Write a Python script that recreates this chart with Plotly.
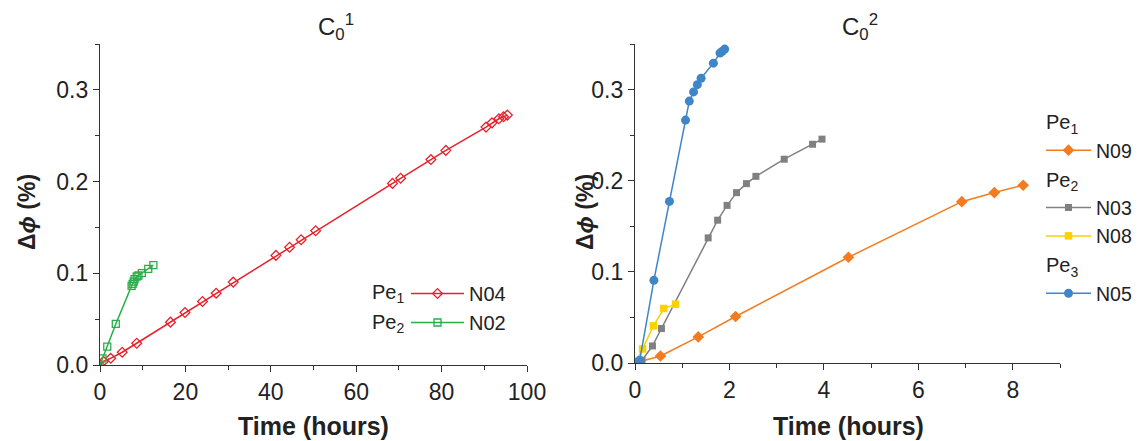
import plotly.graph_objects as go

# ---------------- data ----------------
# Left panel (C0^1), time in hours, delta phi in %
n04_t = [0, 0.8, 2.5, 5.2, 8.6, 16.5, 19.9, 24.0, 27.2, 31.2, 41.2, 44.4, 47.1, 50.5,
         68.5, 70.4, 77.5, 81.0, 90.4, 91.8, 93.4, 94.5, 95.4]
n04_v = [0, 0.004, 0.0073, 0.0139, 0.0237, 0.0467, 0.0572, 0.0692, 0.0783, 0.0904, 0.1195,
         0.1284, 0.1366, 0.1464, 0.198, 0.2036, 0.224, 0.234, 0.2594, 0.264, 0.2685, 0.2707, 0.2725]
n02_t = [0, 0.6, 1.7, 3.7, 7.4, 7.65, 7.9, 8.1, 8.6, 9.0, 9.8, 11.3, 12.5]
n02_v = [0, 0.0073, 0.020, 0.0448, 0.0863, 0.0885, 0.091, 0.0937, 0.0965, 0.0976, 0.1002, 0.1049, 0.109]

# Right panel (C0^2)
n09_t = [0, 0.54, 1.34, 2.13, 4.52, 6.92, 7.61, 8.22]
n09_v = [0, 0.0077, 0.0286, 0.051, 0.116, 0.177, 0.187, 0.195]
n03_t = [0, 0.15, 0.37, 0.56, 1.55, 1.75, 1.95, 2.15, 2.36, 2.56, 3.16, 3.76, 3.96]
n03_v = [0, 0.003, 0.0187, 0.0378, 0.1373, 0.1567, 0.1729, 0.1869, 0.1968, 0.2048, 0.2236, 0.240, 0.2456]
n08_t = [0, 0.16, 0.39, 0.61, 0.86]
n08_v = [0, 0.0154, 0.0407, 0.0598, 0.0646]
n05_t = [0, 0.1, 0.40, 0.73, 1.07, 1.15, 1.24, 1.32, 1.40, 1.66, 1.80, 1.85, 1.90]
n05_v = [0, 0.003, 0.0907, 0.1773, 0.2665, 0.2874, 0.2974, 0.3054, 0.3124, 0.329, 0.340, 0.342, 0.3444]

# ---------------- layout helpers ----------------
W, H = 1142, 441
OFF = 8  # page body margin offset
FONT = "Liberation Sans, Arial, sans-serif"
TXT = "#222222"

def px_x(p):
    return (p - OFF) / W

def px_y(p):
    return 1 - (p - OFF) / H

RED = "#E8212B"
GREEN = "#2AAE4A"
ORANGE = "#F47C20"
GRAY = "#808080"
YELLOW = "#F9D200"
BLUE = "#3F86C8"

fig = go.Figure()

# Left panel traces
fig.add_trace(go.Scatter(x=n04_t, y=n04_v, mode="lines+markers", name="N04",
                         line=dict(color=RED, width=1.5),
                         marker=dict(symbol="diamond-open", size=7.5, color=RED, line=dict(width=1.3)),
                         xaxis="x", yaxis="y", legend="legend"))
fig.add_trace(go.Scatter(x=n02_t, y=n02_v, mode="lines+markers", name="N02",
                         line=dict(color=GREEN, width=1.5),
                         marker=dict(symbol="square-open", size=7, color=GREEN, line=dict(width=1.3)),
                         xaxis="x", yaxis="y", legend="legend"))

# Right panel traces
fig.add_trace(go.Scatter(x=n09_t, y=n09_v, mode="lines+markers", name="N09",
                         line=dict(color=ORANGE, width=1.5),
                         marker=dict(symbol="diamond", size=9, color=ORANGE),
                         legendgroup="pe1", legendgrouptitle=dict(text="Pe<sub>1</sub>"),
                         xaxis="x2", yaxis="y2", legend="legend2"))
fig.add_trace(go.Scatter(x=n03_t, y=n03_v, mode="lines+markers", name="N03",
                         line=dict(color=GRAY, width=1.5),
                         marker=dict(symbol="square", size=7, color=GRAY),
                         legendgroup="pe2", legendgrouptitle=dict(text="Pe<sub>2</sub>"),
                         xaxis="x2", yaxis="y2", legend="legend2"))
fig.add_trace(go.Scatter(x=n08_t, y=n08_v, mode="lines+markers", name="N08",
                         line=dict(color=YELLOW, width=1.5),
                         marker=dict(symbol="square", size=7.5, color=YELLOW),
                         legendgroup="pe2",
                         xaxis="x2", yaxis="y2", legend="legend2"))
fig.add_trace(go.Scatter(x=n05_t, y=n05_v, mode="lines+markers", name="N05",
                         line=dict(color=BLUE, width=1.5),
                         marker=dict(symbol="circle", size=9, color=BLUE),
                         legendgroup="pe3", legendgrouptitle=dict(text="Pe<sub>3</sub>"),
                         xaxis="x2", yaxis="y2", legend="legend2"))

axis_common = dict(
    showline=True, linecolor="#333333", linewidth=1.3,
    ticks="outside", ticklen=6, tickwidth=1.3, tickcolor="#333333",
    showgrid=False, zeroline=False, mirror=False,
    tickfont=dict(family=FONT, size=23, color=TXT),
)
minor_common = dict(ticks="outside", ticklen=4, tickwidth=1.3, tickcolor="#333333", showgrid=False)

fig.update_layout(
    width=W, height=H,
    paper_bgcolor="white", plot_bgcolor="white",
    margin=dict(l=0, r=0, t=0, b=0, autoexpand=False),
    font=dict(family=FONT, color=TXT),
    xaxis=dict(domain=[px_x(100), px_x(527)], range=[0, 100], dtick=20, tick0=0,
               minor=dict(dtick=10, **minor_common), anchor="y", **axis_common),
    yaxis=dict(domain=[px_y(365), px_y(44)], range=[0, 0.35], dtick=0.1, tick0=0, tickformat=".1f",
               minor=dict(dtick=0.05, **minor_common), anchor="x", **axis_common),
    xaxis2=dict(domain=[px_x(635), px_x(1060)], range=[0, 9], dtick=2, tick0=0,
                minor=dict(dtick=1, **minor_common), anchor="y2", **axis_common),
    yaxis2=dict(domain=[px_y(363), px_y(44)], range=[0, 0.35], dtick=0.1, tick0=0, tickformat=".1f",
                minor=dict(dtick=0.05, **minor_common), anchor="x2", **axis_common),
    legend=dict(x=px_x(406), y=px_y(274), xanchor="left", yanchor="top",
                bgcolor="rgba(0,0,0,0)", itemwidth=53, tracegroupgap=0,
                font=dict(family=FONT, size=20, color=TXT), traceorder="normal"),
    legend2=dict(x=px_x(1041), y=px_y(102), xanchor="left", yanchor="top",
                 bgcolor="rgba(0,0,0,0)", itemwidth=45, tracegroupgap=0,
                 font=dict(family=FONT, size=19.5, color=TXT),
                 grouptitlefont=dict(family=FONT, size=20, color=TXT)),
    showlegend=True,
)

annotations = [
    # panel titles
    dict(text="C<sub>0</sub><sup>1</sup>", x=px_x(336), y=px_y(27), xref="paper", yref="paper",
         showarrow=False, font=dict(family=FONT, size=24, color=TXT), xanchor="center", yanchor="middle"),
    dict(text="C<sub>0</sub><sup>2</sup>", x=px_x(860), y=px_y(27), xref="paper", yref="paper",
         showarrow=False, font=dict(family=FONT, size=24, color=TXT), xanchor="center", yanchor="middle"),
    # x titles
    dict(text="<b>Time (hours)</b>", x=px_x(313), y=px_y(426), xref="paper", yref="paper",
         showarrow=False, font=dict(family=FONT, size=25, color=TXT), xanchor="center", yanchor="middle"),
    dict(text="<b>Time (hours)</b>", x=px_x(848), y=px_y(426), xref="paper", yref="paper",
         showarrow=False, font=dict(family=FONT, size=25, color=TXT), xanchor="center", yanchor="middle"),
    # y titles
    dict(text="<b>Δ<i>ϕ</i> (%)</b>", x=px_x(27), y=px_y(212), xref="paper", yref="paper", textangle=-90,
         showarrow=False, font=dict(family=FONT, size=23, color=TXT), xanchor="center", yanchor="middle"),
    dict(text="<b>Δ<i>ϕ</i> (%)</b>", x=px_x(585), y=px_y(212), xref="paper", yref="paper", textangle=-90,
         showarrow=False, font=dict(family=FONT, size=23, color=TXT), xanchor="center", yanchor="middle"),
    # left legend group labels
    dict(text="Pe<sub>1</sub>", x=px_x(406), y=px_y(293), xref="paper", yref="paper",
         showarrow=False, font=dict(family=FONT, size=20, color=TXT), xanchor="right", yanchor="middle"),
    dict(text="Pe<sub>2</sub>", x=px_x(406), y=px_y(323), xref="paper", yref="paper",
         showarrow=False, font=dict(family=FONT, size=20, color=TXT), xanchor="right", yanchor="middle"),
]
fig.update_layout(annotations=annotations)

fig.write_html("out.html")
